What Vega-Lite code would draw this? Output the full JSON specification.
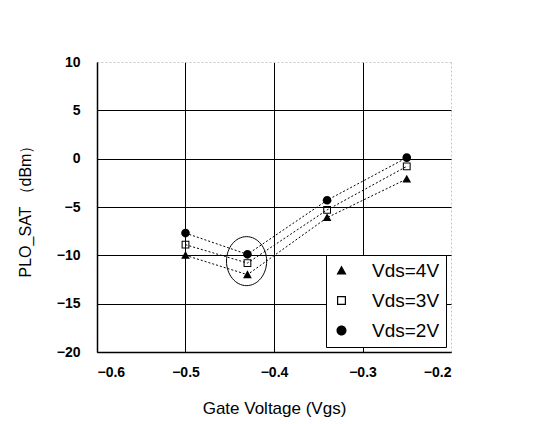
{
  "$schema": "https://vega.github.io/schema/vega-lite/v6.json",
  "autosize": {"type": "none"},
  "width": 354,
  "height": 290,
  "padding": {"left": 97, "top": 62, "right": 93, "bottom": 72},
  "background": "white",
  "config": {
    "view": {"stroke": null},
    "font": "Liberation Sans",
    "legend": {
      "orient": "bottom-right",
      "offset": 5,
      "padding": 6,
      "strokeColor": "black",
      "fillColor": "white",
      "labelFont": "Liberation Sans",
      "labelFontSize": 19,
      "labelColor": "black",
      "labelOffset": 21,
      "rowPadding": 10,
      "symbolDash": [1.5, 1.5],
      "symbolStrokeColor": "black",
      "symbolFillColor": "black",
      "symbolStrokeWidth": 1,
      "symbolOpacity": 1
    }
  },
  "datasets": {
    "meas": [
      {"series": "Vds=4V", "vgs": -0.5, "p": -10.0},
      {"series": "Vds=4V", "vgs": -0.43, "p": -12.0},
      {"series": "Vds=4V", "vgs": -0.34, "p": -6.1},
      {"series": "Vds=4V", "vgs": -0.25, "p": -2.1},
      {"series": "Vds=3V", "vgs": -0.5, "p": -8.9},
      {"series": "Vds=3V", "vgs": -0.43, "p": -10.8},
      {"series": "Vds=3V", "vgs": -0.34, "p": -5.3},
      {"series": "Vds=3V", "vgs": -0.25, "p": -0.8},
      {"series": "Vds=2V", "vgs": -0.5, "p": -7.7},
      {"series": "Vds=2V", "vgs": -0.43, "p": -9.9},
      {"series": "Vds=2V", "vgs": -0.34, "p": -4.3},
      {"series": "Vds=2V", "vgs": -0.25, "p": 0.1}
    ],
    "mark_ellipse": [
      {"vgs": -0.431, "p": -10.6}
    ]
  },
  "encoding": {
    "x": {
      "field": "vgs", "type": "quantitative",
      "scale": {"domain": [-0.6, -0.2], "nice": false, "zero": false},
      "axis": {
        "title": "Gate Voltage (Vgs)",
        "values": [-0.6, -0.5, -0.4, -0.3, -0.2],
        "format": ".1f",
        "labelFont": "Liberation Sans", "labelFontSize": 14, "labelFontWeight": "bold", "labelColor": "black",
        "labelPadding": 13, "tickSize": 0, "ticks": true, "tickOpacity": 0,
        "domain": true, "domainColor": "black", "domainWidth": 1.5,
        "grid": true,
        "gridColor": {"condition": {"test": "datum.value === -0.2", "value": "#c8c8c8"}, "value": "black"},
        "gridDash": {"condition": {"test": "datum.value === -0.2", "value": [2, 2]}, "value": []},
        "gridWidth": 1,
        "titleFont": "Liberation Sans", "titleFontSize": 17, "titleFontWeight": "normal", "titleColor": "black",
        "titlePadding": 21
      }
    },
    "y": {
      "field": "p", "type": "quantitative",
      "scale": {"domain": [-20, 10], "nice": false, "zero": false},
      "axis": {
        "title": "PLO_SAT （dBm）",
        "values": [-20, -15, -10, -5, 0, 5, 10],
        "labelFont": "Liberation Sans", "labelFontSize": 14, "labelFontWeight": "bold", "labelColor": "black",
        "labelPadding": 17, "tickSize": 0, "ticks": true, "tickOpacity": 0,
        "domain": true, "domainColor": "black", "domainWidth": 1.5,
        "grid": true,
        "gridColor": {"condition": {"test": "datum.value === 10", "value": "#c8c8c8"}, "value": "black"},
        "gridDash": {"condition": {"test": "datum.value === 10", "value": [2, 2]}, "value": []},
        "gridWidth": 1,
        "titleFont": "Liberation Sans", "titleFontSize": 16, "titleFontWeight": "normal", "titleColor": "black",
        "titlePadding": 23
      }
    }
  },
  "resolve": {"scale": {"shape": "independent"}},
  "layer": [
    {
      "data": {"name": "meas"},
      "mark": {"type": "line", "color": "black", "strokeWidth": 1, "strokeDash": [2, 2]},
      "encoding": {
        "detail": {"field": "series"}
      }
    },
    {
      "data": {"name": "mark_ellipse"},
      "mark": {
        "type": "point",
        "shape": "M0.82,0A0.82,1,0,1,1,-0.82,0A0.82,1,0,1,1,0.82,0Z",
        "size": 2401,
        "filled": false,
        "stroke": "black",
        "strokeWidth": 1,
        "opacity": 1
      }
    },
    {
      "data": {"name": "meas"},
      "mark": {"type": "point", "size": 75, "filled": true, "fill": "black", "stroke": "black", "strokeWidth": 0, "opacity": 1},
      "encoding": {
        "shape": {
          "field": "series", "type": "nominal",
          "scale": {
            "domain": ["Vds=4V", "Vds=3V", "Vds=2V"],
            "range": [
              "M0,-1L1,0.8L-1,0.8Z",
              "M-0.9,-0.9H0.9V0.9H-0.9ZM-0.66,-0.66V0.66H0.66V-0.66Z",
              "M1,0A1,1,0,1,1,-1,0A1,1,0,1,1,1,0Z"
            ]
          },
          "legend": null
        }
      }
    },
    {
      "data": {"name": "meas"},
      "transform": [{"filter": "datum.p > 100"}],
      "mark": {"type": "point", "size": 75, "filled": false, "fill": "black", "stroke": "black", "strokeWidth": 1, "strokeDash": [1.5, 1.5], "opacity": 1, "fillOpacity": 1},
      "encoding": {
        "shape": {
          "field": "series", "type": "nominal",
          "scale": {
            "domain": ["Vds=4V", "Vds=3V", "Vds=2V"],
            "range": [
              "M-4,0H-1.3M1.3,0H4M0,-1L1,0.8L-1,0.8Z",
              "M-4,0H-1.1M1.1,0H4M-0.9,-0.9H0.9V0.9H-0.9ZM-0.66,-0.66V0.66H0.66V-0.66Z",
              "M-4,0H-1.1M1.1,0H4M1,0A1,1,0,1,1,-1,0A1,1,0,1,1,1,0Z"
            ]
          },
          "legend": {"title": null}
        }
      }
    }
  ]
}
